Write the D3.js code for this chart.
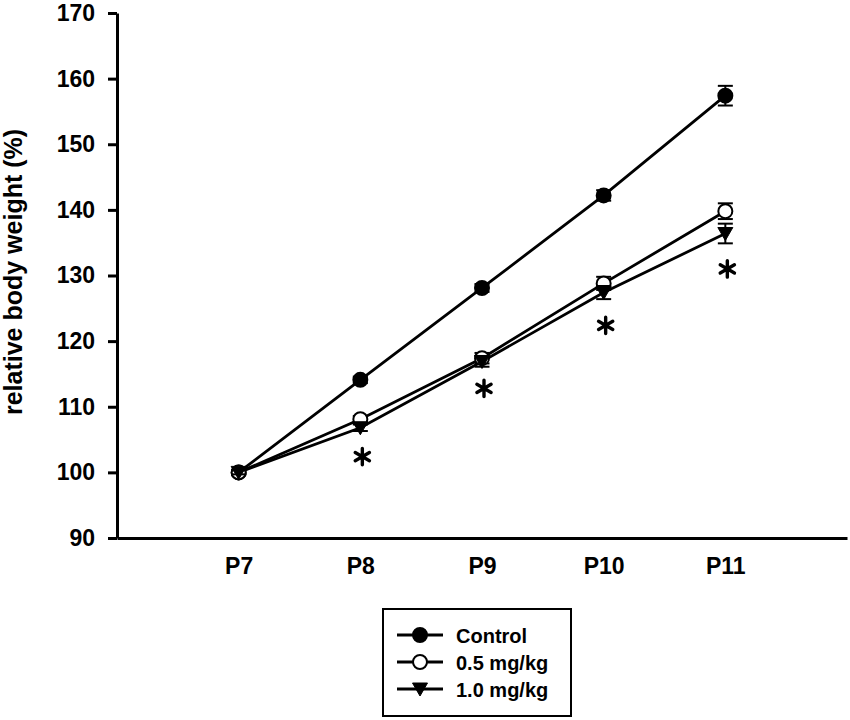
<!DOCTYPE html>
<html>
<head>
<meta charset="UTF-8">
<script src="https://d3js.org/d3.v7.min.js"></script>
<style>
  html, body { margin: 0; padding: 0; background: #fff; }
  svg { display: block; font-family: "Liberation Sans", Arial, sans-serif; }
</style>
</head>
<body>
<svg width="850" height="720"></svg>
<script>
// données
const days = [7, 8, 9, 10, 11];
const dayLabels = ["P7", "P8", "P9", "P10", "P11"];
const control = [100, 114.1, 128.1, 142.2, 157.4];
const controlErr = [0.3, 0.5, 0.6, 0.8, 1.5];
const dose05 = [100, 108.1, 117.4, 128.8, 139.8];
const dose05Err = [0.3, 0.5, 0.8, 1.0, 1.2];
const dose10 = [100, 106.8, 116.9, 127.4, 136.4];
const dose10Err = [0.3, 0.5, 0.8, 1.0, 1.5];
const sigDays = [8, 9, 10, 11];
const sigY = [102.4, 112.8, 122.4, 131.0];
const yTicks = [90, 100, 110, 120, 130, 140, 150, 160, 170];

const svg = d3.select("svg");
const x = d3.scaleLinear().domain([6, 12]).range([117, 847]);
const y = d3.scaleLinear().domain([90, 170]).range([538, 13]);

// axes
const yAxis = svg.append("g").attr("transform", "translate(117,0)")
    .call(d3.axisLeft(y).tickValues(yTicks).tickSize(9).tickPadding(13).tickSizeOuter(0));
yAxis.select(".domain").attr("stroke-width", 3);
yAxis.selectAll(".tick line").attr("stroke-width", 3);
yAxis.selectAll("text").attr("font-size", 23).attr("font-weight", "bold").attr("fill", "#000");

const xAxis = svg.append("g").attr("transform", "translate(0,538)")
    .call(d3.axisBottom(x).tickValues(days).tickFormat((d, i) => dayLabels[i]).tickSize(0).tickPadding(20).tickSizeOuter(0));
xAxis.select(".domain").attr("stroke-width", 3);
xAxis.selectAll("text").attr("font-size", 23).attr("font-weight", "bold").attr("fill", "#000");

svg.append("text")
    .attr("transform", "translate(22,272) rotate(-90)")
    .attr("text-anchor", "middle")
    .attr("font-size", 25).attr("font-weight", "bold")
    .text("relative body weight (%)");

const series = [
    { name: "Control", values: control, err: controlErr, shape: "circle", fill: "#000" },
    { name: "0.5 mg/kg", values: dose05, err: dose05Err, shape: "circle", fill: "#fff" },
    { name: "1.0 mg/kg", values: dose10, err: dose10Err, shape: "triangle", fill: "#000" }
];

const line = d3.line().x((d, i) => x(days[i])).y(d => y(d));
const triPath = "M-7.5,-6 L7.5,-6 L0,7 Z";

function marker(g, s) {
    if (s.shape === "circle") {
        g.append("circle").attr("r", 7).attr("fill", s.fill).attr("stroke", "#000").attr("stroke-width", 2);
    } else {
        g.append("path").attr("d", triPath).attr("fill", s.fill).attr("stroke", "#000").attr("stroke-width", 1);
    }
}

series.forEach(s => {
    svg.append("path").datum(s.values).attr("d", line)
        .attr("fill", "none").attr("stroke", "#000").attr("stroke-width", 2.8);
});

series.forEach(s => {
    const g = svg.append("g");
    s.values.forEach((v, i) => {
        const cx = x(days[i]);
        const e = s.err[i];
        const eb = g.append("g").attr("stroke", "#000").attr("stroke-width", 2);
        eb.append("line").attr("x1", cx).attr("x2", cx).attr("y1", y(v + e)).attr("y2", y(v - e));
        eb.append("line").attr("x1", cx - 7.5).attr("x2", cx + 7.5).attr("y1", y(v + e)).attr("y2", y(v + e));
        eb.append("line").attr("x1", cx - 7.5).attr("x2", cx + 7.5).attr("y1", y(v - e)).attr("y2", y(v - e));
        const m = g.append("g").attr("transform", `translate(${cx},${y(v)})`);
        marker(m, s);
    });
});

// astérisques
const star = d3.symbol().type(d3.symbolAsterisk).size(190);
svg.selectAll(".sig").data(sigDays).join("path")
    .attr("class", "sig")
    .attr("transform", (d, i) => `translate(${x(d) + 2},${y(sigY[i])})`)
    .attr("d", star)
    .attr("fill", "none")
    .attr("stroke", "#000")
    .attr("stroke-width", 3.4)
    .attr("stroke-linecap", "round");

// légende
const lg = svg.append("g");
lg.append("rect").attr("x", 383).attr("y", 609).attr("width", 188).attr("height", 107)
    .attr("fill", "#fff").attr("stroke", "#000").attr("stroke-width", 2);
series.forEach((s, i) => {
    const ly = 635 + i * 27;
    lg.append("line").attr("x1", 397).attr("x2", 443).attr("y1", ly).attr("y2", ly)
        .attr("stroke", "#000").attr("stroke-width", 2.8);
    marker(lg.append("g").attr("transform", `translate(420,${ly})`), s);
    lg.append("text").attr("x", 456).attr("y", ly + 8)
        .attr("font-size", 20).attr("font-weight", "bold").text(s.name);
});
</script>
</body>
</html>
